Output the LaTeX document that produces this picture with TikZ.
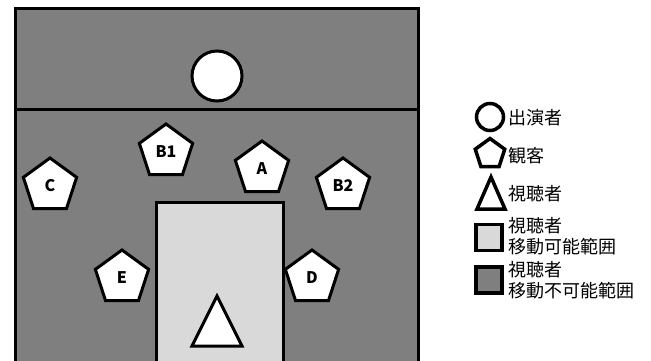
\documentclass[tikz,border=0pt]{standalone}
\usepackage{fontspec}
\newfontfamily\jp{Noto Sans CJK JP}
\usetikzlibrary{shapes.geometric}
\definecolor{darkarea}{HTML}{7F7F7F}
\definecolor{lightarea}{HTML}{D9D9D9}
\tikzset{
  wall/.style={line width=3pt, draw=black},
  guest/.style={regular polygon, regular polygon sides=5, minimum size=56pt, inner sep=0pt,
     draw=black, line width=3pt, fill=white, font=\jp\bfseries\fontsize{16}{16}\selectfont},
  performer/.style={circle, minimum size=50pt, inner sep=0pt, draw=black, line width=3pt, fill=white},
  legtext/.style={anchor=west, inner sep=0pt, align=left, font=\jp\fontsize{18}{21}\selectfont},
  legbox/.style={draw=black, line width=3.5pt, minimum size=26pt, inner sep=0pt},
}
\begin{document}
\begin{tikzpicture}[x=1pt,y=-1pt]
\useasboundingbox (0,0) rectangle (651,360);
\clip (0,0) rectangle (651,360);
% stage area
\fill[darkarea] (15,8) rectangle (418,365);
\draw[wall] (15,365) -- (15,8) -- (418,8) -- (418,365);
\draw[wall] (15,109) -- (418,109);
% viewer movable area
\fill[lightarea] (156,202) rectangle (283,365);
\draw[wall] (156,365) -- (156,202) -- (283,202) -- (283,365);
% performer
\node[performer] (perf) at (217,76) {};
% guests
\node[guest] (B1) at (166,152) {B1};
\node[guest] (A) at (262,169) {A};
\node[guest] (C) at (50,186) {C};
\node[guest] (B2) at (343,186) {B2};
\node[guest] (E) at (122,278) {E};
\node[guest] (D) at (312,278) {D};
% viewer
\draw[line width=3pt, fill=white, line join=miter] (217,296) -- (242,346) -- (192,346) -- cycle;
% legend
\node[circle, minimum size=27pt, inner sep=0pt, draw=black, line width=3.5pt, fill=white] (lc) at (490,117) {};
\node[legtext] (lct) at (508,118) {出演者};
\node[regular polygon, regular polygon sides=5, minimum size=31pt, inner sep=0pt, draw=black, line width=3.5pt, fill=white] (lp) at (490,154) {};
\node[legtext] (lpt) at (508,156) {観客};
\draw[line width=3.5pt, fill=white, line join=miter] (491,177) -- (505,209) -- (477,209) -- cycle;
\node[legtext] (ltt) at (508,194) {視聴者};
\node[legbox, fill=lightarea] (ls1) at (489,237.5) {};
\node[legtext] (ls1t) at (508,236) {視聴者\\移動可能範囲};
\node[legbox, fill=darkarea] (ls2) at (489,280) {};
\node[legtext] (ls2t) at (508,280) {視聴者\\移動不可能範囲};
\end{tikzpicture}
\end{document}
